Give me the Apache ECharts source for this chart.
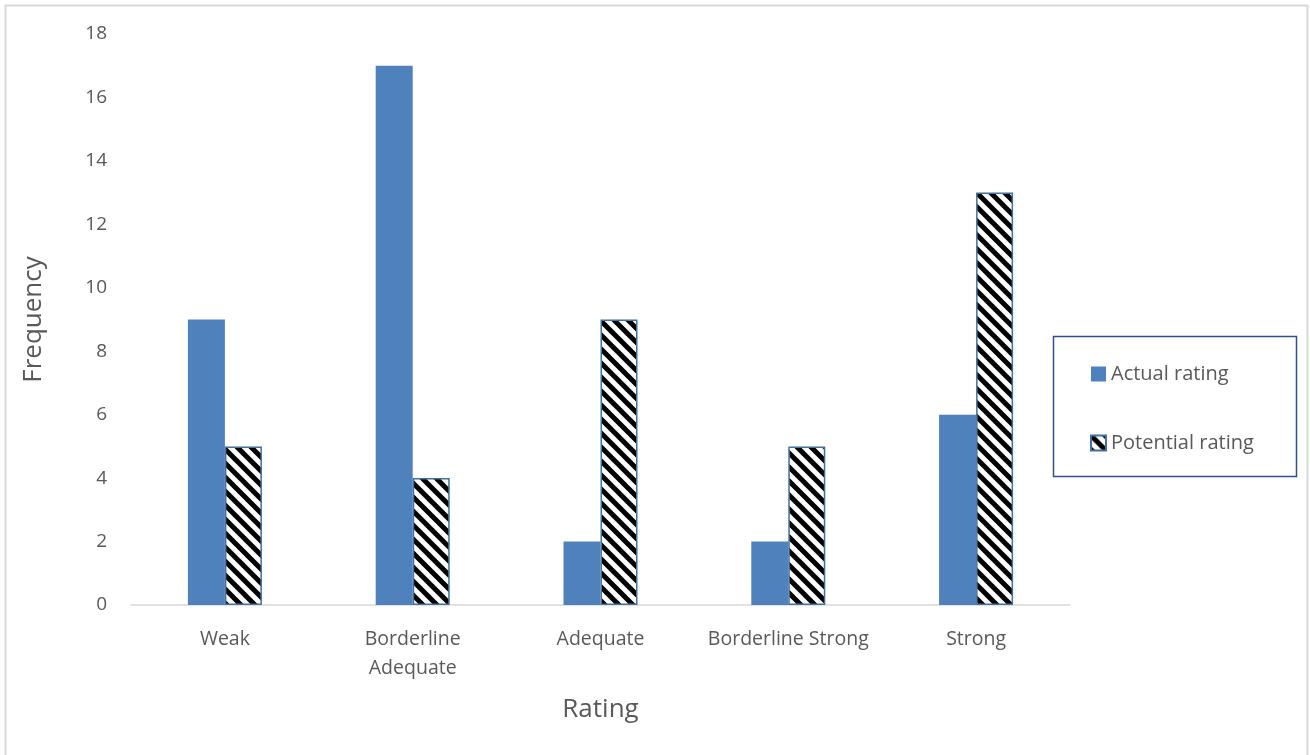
<!DOCTYPE html>
<html>
<head>
<meta charset="utf-8">
<script src="https://cdn.jsdelivr.net/npm/echarts@6/dist/echarts.min.js"></script>
<style>
  html, body { margin: 0; padding: 0; background: #fff; }
  #chart { width: 1310px; height: 755px; }
</style>
</head>
<body>
<div id="chart"></div>
<script>
// Rating categories and frequencies
const categories = ['Weak', 'Borderline\nAdequate', 'Adequate', 'Borderline Strong', 'Strong'];
const actualRating = [9, 17, 2, 2, 6];
const potentialRating = [5, 4, 9, 5, 13];
const yTicks = { min: 0, max: 18, interval: 2 };

const FONT = '"Open Sans", "Liberation Sans", sans-serif';
const TEXT = '#595959';
const BLUE = '#4F81BD';

// Diagonal black stripes on white, used for the potential-rating bars
function hatchCanvas() {
  const s = 14;
  const c = document.createElement('canvas');
  c.width = s; c.height = s;
  const g = c.getContext('2d');
  g.fillStyle = '#fff';
  g.fillRect(0, 0, s, s);
  g.strokeStyle = '#000';
  g.lineWidth = 5;
  g.beginPath();
  g.moveTo(-s, 0); g.lineTo(s, 2 * s);
  g.moveTo(0, 0); g.lineTo(s, s);
  g.moveTo(0, -s); g.lineTo(2 * s, s);
  g.stroke();
  return c;
}
const hatch = { image: hatchCanvas(), repeat: 'repeat' };

const chart = echarts.init(document.getElementById('chart'), null, { renderer: 'canvas' });
chart.setOption({
  backgroundColor: '#fff',
  animation: false,
  graphic: [
    { type: 'rect', shape: { x: 5.5, y: 5.5, width: 1302, height: 760 },
      style: { fill: 'none', stroke: '#D9D9D9', lineWidth: 2 }, silent: true },
    { type: 'rect', shape: { x: 1053.5, y: 336.5, width: 243, height: 140 },
      style: { fill: '#fff', stroke: '#2F528F', lineWidth: 1.5 }, silent: true, z: 0 }
  ],
  grid: { left: 131, right: 240, top: 34, bottom: 150 },
  legend: {
    orient: 'vertical',
    left: 1085, top: 359,
    itemWidth: 15, itemHeight: 15,
    itemGap: 49,
    icon: 'rect',
    textStyle: { color: TEXT, fontSize: 20, fontFamily: FONT, padding: [0, 0, 0, 0] },
    data: ['Actual rating', 'Potential rating'],
    z: 5
  },
  xAxis: {
    type: 'category',
    data: categories,
    name: 'Rating',
    nameLocation: 'middle',
    nameGap: 92,
    nameTextStyle: { color: TEXT, fontSize: 26, fontFamily: FONT },
    axisLine: { lineStyle: { color: '#D9D9D9', width: 1.5 } },
    axisTick: { show: false },
    axisLabel: { color: TEXT, fontSize: 19.5, fontFamily: FONT, margin: 20, lineHeight: 29, interval: 0 }
  },
  yAxis: {
    type: 'value',
    min: yTicks.min, max: yTicks.max, interval: yTicks.interval,
    name: 'Frequency',
    nameLocation: 'middle',
    nameGap: 84,
    nameTextStyle: { color: TEXT, fontSize: 26, fontFamily: FONT },
    axisLine: { show: false },
    axisTick: { show: false },
    splitLine: { show: false },
    axisLabel: { color: TEXT, fontSize: 19, fontFamily: FONT, margin: 24 }
  },
  series: [
    {
      name: 'Actual rating',
      type: 'bar',
      data: actualRating,
      barWidth: 37,
      barGap: '0%',
      itemStyle: { color: BLUE }
    },
    {
      name: 'Potential rating',
      type: 'bar',
      data: potentialRating,
      barWidth: 37,
      itemStyle: { color: hatch, borderColor: '#41719C', borderWidth: 1.5 }
    }
  ]
});
</script>
</body>
</html>
